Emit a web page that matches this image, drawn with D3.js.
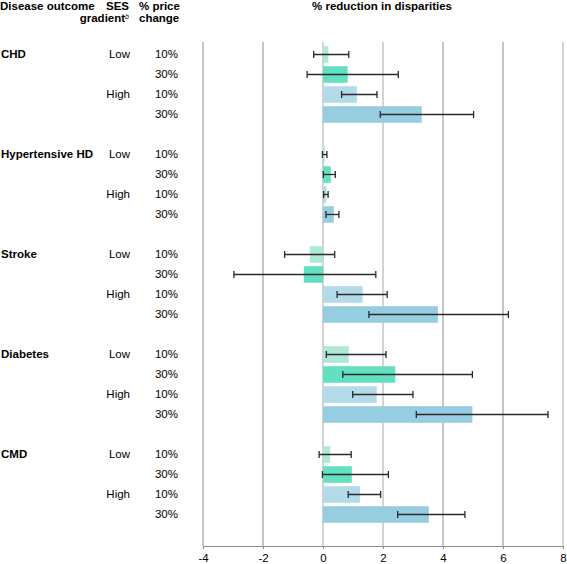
<!DOCTYPE html>
<html><head><meta charset="utf-8">
<script src="https://cdn.jsdelivr.net/npm/d3@7"></script>
<style>
body{margin:0;background:#fff;}
svg{display:block;font-family:"Liberation Sans",Arial,Helvetica,sans-serif;}
</style></head>
<body><svg id="c" width="567" height="564"></svg>
<script>
const diseases = ["CHD", "Hypertensive HD", "Stroke", "Diabetes", "CMD"];
const gradients = ["Low", "High"];
const prices = ["10%", "30%"];
const xTicks = [-4, -2, 0, 2, 4, 6, 8];
// order per disease: Low 10%, Low 30%, High 10%, High 30%
const reduction = [
  [0.18, 0.82, 1.13, 3.29],
  [0.06, 0.26, 0.11, 0.36],
  [-0.44, -0.64, 1.32, 3.83],
  [0.86, 2.41, 1.79, 4.98],
  [0.24, 0.96, 1.23, 3.53]
];
const ciLower = [
  [-0.31, -0.53, 0.62, 1.91],
  [-0.02, 0.01, 0.02, 0.10],
  [-1.28, -2.97, 0.47, 1.53],
  [0.11, 0.66, 0.99, 3.11],
  [-0.13, -0.02, 0.84, 2.49]
];
const ciUpper = [
  [0.86, 2.51, 1.80, 5.02],
  [0.13, 0.41, 0.17, 0.53],
  [0.39, 1.76, 2.14, 6.18],
  [2.10, 4.98, 3.00, 7.50],
  [0.94, 2.18, 1.92, 4.73]
];

const FS = 11.5;
const svg = d3.select("#c");
const x = d3.scaleLinear().domain([-4, 8]).range([203, 563]);
const slots = d3.range(25);
const y = d3.scaleBand().domain(slots).range([44.5, 544.5]).paddingInner(0.17).paddingOuter(0.085);
const color = d3.scaleOrdinal().domain([0,1,2,3]).range(["#aee9d7", "#63e0c1", "#b3dae8", "#97cde0"]);

const rows = [];
diseases.forEach((d, i) => {
  for (let j = 0; j < 4; j++) {
    rows.push({disease: d, di: i, j, slot: i*5 + j,
      grad: gradients[Math.floor(j/2)], price: prices[j%2],
      v: reduction[i][j], lo: ciLower[i][j], hi: ciUpper[i][j]});
  }
});
const cy = s => y(s) + y.bandwidth()/2;

// gridlines
svg.append("g").selectAll("line").data(xTicks).join("line")
  .attr("x1", d => x(d)).attr("x2", d => x(d))
  .attr("y1", 42).attr("y2", 546)
  .attr("stroke", d => (d === 0 || d === 2 || d === 8) ? "#c4c4c4" : "#8e8e8e")
  .attr("stroke-width", d => (d === 0 || d === 2 || d === 8) ? 1.5 : 1);

// bars
svg.append("g").selectAll("rect").data(rows).join("rect")
  .attr("x", d => x(Math.min(0, d.v)))
  .attr("width", d => Math.abs(x(d.v) - x(0)))
  .attr("y", d => y(d.slot))
  .attr("height", y.bandwidth())
  .attr("fill", d => color(d.j));

// error bars
const eb = svg.append("g").attr("stroke", "#2a2a2a").attr("stroke-width", 1.3);
eb.selectAll("line.h").data(rows).join("line").attr("class","h")
  .attr("x1", d => x(d.lo)).attr("x2", d => x(d.hi))
  .attr("y1", d => cy(d.slot)).attr("y2", d => cy(d.slot));
eb.selectAll("line.l").data(rows).join("line").attr("class","l")
  .attr("x1", d => x(d.lo)).attr("x2", d => x(d.lo))
  .attr("y1", d => cy(d.slot) - 3.5).attr("y2", d => cy(d.slot) + 3.5);
eb.selectAll("line.r").data(rows).join("line").attr("class","r")
  .attr("x1", d => x(d.hi)).attr("x2", d => x(d.hi))
  .attr("y1", d => cy(d.slot) - 3.5).attr("y2", d => cy(d.slot) + 3.5);

// axis
const ax = svg.append("g").attr("transform", "translate(0,546)")
  .call(d3.axisBottom(x).tickValues(xTicks).tickSize(3).tickSizeOuter(0).tickFormat(d => String(d)));
ax.select(".domain").attr("stroke", "#8e8e8e");
ax.selectAll(".tick line").attr("stroke", "#8e8e8e");
ax.selectAll(".tick text").attr("font-size", FS).attr("fill", "#000").attr("dy", "0.85em")
  .attr("font-family", "'Liberation Sans',Arial,sans-serif");

// row labels
const lab = svg.append("g").attr("font-size", FS).attr("fill", "#000");
lab.selectAll("text.dis").data(diseases).join("text").attr("class","dis")
  .attr("x", 1).attr("y", (d, i) => cy(i*5) + 3.5)
  .attr("font-weight", "bold").text(d => d);
lab.selectAll("text.grad").data(rows.filter(r => r.j % 2 === 0)).join("text").attr("class","grad")
  .attr("x", 130).attr("y", d => cy(d.slot) + 3.5).attr("text-anchor", "end").text(d => d.grad);
lab.selectAll("text.price").data(rows).join("text").attr("class","price")
  .attr("x", 178).attr("y", d => cy(d.slot) + 3.5).attr("text-anchor", "end").text(d => d.price);

// header
const hd = svg.append("g").attr("font-size", FS).attr("font-weight", "bold").attr("fill", "#000");
hd.append("text").attr("x", 0).attr("y", 9.5).text("Disease outcome");
hd.append("text").attr("x", 129).attr("y", 9.5).attr("text-anchor", "end").text("SES");
const g2 = hd.append("text").attr("x", 129).attr("y", 22).attr("text-anchor", "end");
g2.append("tspan").text("gradient");
g2.append("tspan").attr("font-size", 7).attr("font-style", "italic").attr("font-weight", "normal").attr("dy", -3.5).text("b");
hd.append("text").attr("x", 139).attr("y", 9.5).text("% price");
hd.append("text").attr("x", 139).attr("y", 22).text("change");
hd.append("text").attr("x", 312).attr("y", 9.5).text("% reduction in disparities");
</script></body></html>
